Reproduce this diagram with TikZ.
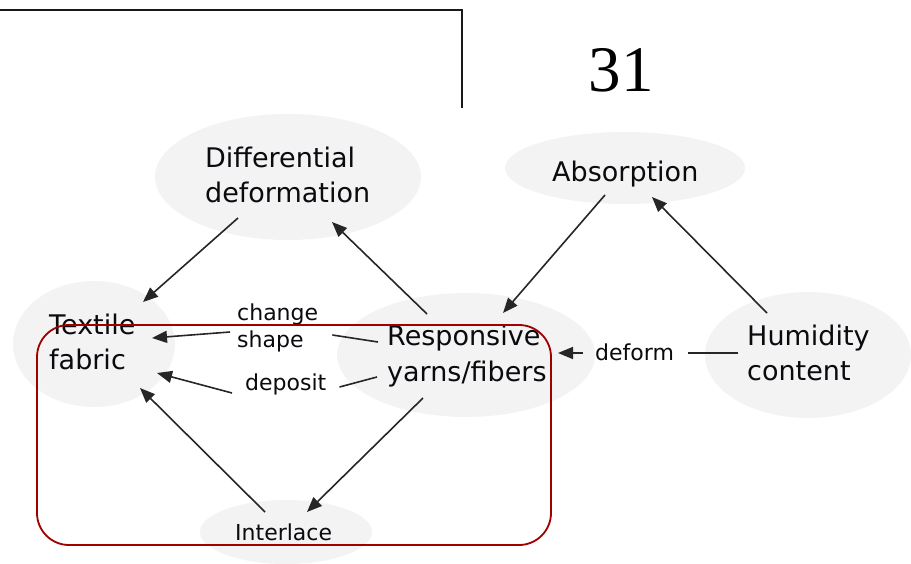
\documentclass[tikz,border=0pt]{standalone}
\usepackage{fontspec}
\setmainfont{DejaVu Sans}
\newfontfamily\numfont{Liberation Serif}
\usetikzlibrary{calc,shapes.geometric,arrows.meta}
\definecolor{blobfill}{RGB}{243,243,243}
\definecolor{framered}{RGB}{160,0,0}
\definecolor{ink}{RGB}{10,10,15}
\begin{document}
\begin{tikzpicture}[x=1pt,y=-1pt,
  blob/.style={ellipse, fill=blobfill, draw=none, inner sep=0pt, outer sep=0pt},
  term/.style={anchor=west, inner sep=0pt, align=left, text=ink,
               font=\fontsize{27}{35.5}\selectfont},
  tag/.style={anchor=west, inner sep=0pt, align=left, text=ink,
              font=\fontsize{22}{27}\selectfont},
  link/.style={draw=black!85, line width=1.6pt},
  arr/.style={link, -{Triangle[length=15pt,width=12pt]}},
]
\useasboundingbox (0,0) rectangle (911,564);

% page frame corner and page number
\draw[line width=2.6pt, black!90] (0,10) -- (462,10) -- (462,108);
\node[font=\numfont\fontsize{65}{65}\selectfont, anchor=base, inner sep=0pt]
  (pagenum) at (621,92) {31};

% concept bubbles
\node[blob, minimum width=266pt, minimum height=126pt] (diff) at (288,177) {};
\node[blob, minimum width=240pt, minimum height=72pt]  (abs)  at (625,168) {};
\node[blob, minimum width=162pt, minimum height=126pt] (tex)  at (94,344)  {};
\node[blob, minimum width=258pt, minimum height=124pt] (resp) at (466,355) {};
\node[blob, minimum width=206pt, minimum height=126pt] (hum)  at (808,355) {};
\node[blob, minimum width=172pt, minimum height=64pt]  (int)  at (286,532) {};

% bubble texts
\node[term] (difftxt) at (205,175) {Differential\\deformation};
\node[term] (abstxt)  at (552,174) {Absorption};
\node[term] (textxt)  at (49,342)  {Textile\\fabric};
\node[term] (resptxt) at (387,356) {Responsive\\yarns/fibers};
\node[term] (humtxt)  at (747,353) {Humidity\\content};
\node[tag]  (inttxt)  at (235,532) {Interlace};

% edge labels
\node[tag] (chs) at (237,328) {change\\shape};
\node[tag] (dep) at (245,384) {deposit};
\node[tag] (dfm) at (595,352) {deform};

% straight connectors
\draw[arr] ($(diff)+(-50,41)$) -- ($(tex)+(49,-42)$);
\draw[arr] ($(resp)+(-39,-41)$) -- ($(diff)+(44,45)$);
\draw[arr] ($(abs)+(-20,27)$) -- ($(resp)+(37,-42)$);
\draw[arr] ($(hum)+(-41,-42)$) -- ($(abs)+(27,29)$);
\draw[arr] ($(resp)+(-43,43)$) -- ($(int)+(21,-20)$);
\draw[arr] ($(int)+(-21,-20)$) -- ($(tex)+(46,44)$);

% labelled connectors, split around their labels
\draw[link] ($(resp)+(-88,-13)$) -- ($(chs.east)+(14,7)$);
\draw[arr]  ($(chs.west)+(-7,4)$) -- ($(tex)+(58,-6)$);
\draw[link] ($(resp)+(-89,22)$) -- ($(dep.east)+(13,3)$);
\draw[arr]  ($(dep.west)+(-13,9)$) -- ($(tex)+(63,29)$);
\draw[link] ($(hum)+(-70,-2)$) -- ($(dfm.east)+(14,1)$);
\draw[arr]  ($(dfm.west)+(-12,1)$) -- ($(resp)+(92,-2)$);

% highlight frame
\draw[framered, line width=1.8pt, rounded corners=32pt] (37,325) rectangle (551,545);
\end{tikzpicture}
\end{document}
